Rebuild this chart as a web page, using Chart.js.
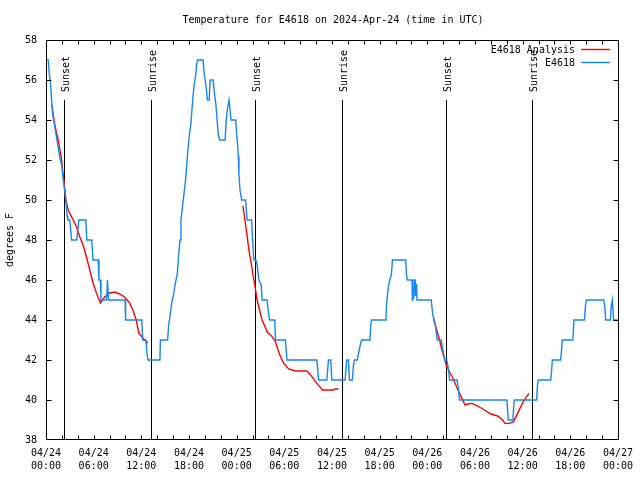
<!DOCTYPE html>
<html><head><meta charset="utf-8">
<script src="https://cdn.jsdelivr.net/npm/chart.js@4.4.1/dist/chart.umd.min.js"></script>
<style>html,body{margin:0;padding:0;background:#fff}canvas{display:block}</style>
</head><body>
<canvas id="c" width="640" height="480"></canvas>
<script>
const titleText = 'Temperature for E4618 on 2024-Apr-24 (time in UTC)';
const yAxisTitle = 'degrees F';
const seriesNames = ['E4618 Analysis', 'E4618'];
const seriesColors = ['#ff0000', '#1487f5'];

const xTickDates = ['04/24','04/24','04/24','04/24','04/25','04/25','04/25','04/25','04/26','04/26','04/26','04/26','04/27'];
const xTickTimes = ['00:00','06:00','12:00','18:00','00:00','06:00','12:00','18:00','00:00','06:00','12:00','18:00','00:00'];

// Observed station temperature (hours since 04/24 00:00 UTC, deg F)
const obsHours = [0.1,0.29,0.41,0.54,0.71,0.84,0.96,1.09,1.38,1.75,2.0,2.17,2.38,2.54,2.67,2.75,3.0,3.22,3.88,4.13,5.01,5.13,5.76,5.92,6.57,6.67,6.85,6.92,7.64,7.73,7.80,7.89,9.95,10.02,12.06,12.18,12.58,12.71,12.84,14.34,14.40,15.31,15.44,15.62,15.82,16.07,16.24,16.37,16.53,16.65,16.87,16.99,17.28,17.57,17.82,18.03,18.24,18.37,18.53,18.66,18.87,18.95,19.07,19.78,19.91,20.12,20.25,20.32,20.54,20.66,21.04,21.16,21.38,21.58,21.70,21.88,22.54,22.70,22.83,23.04,23.17,23.29,23.88,24.00,24.13,24.21,24.29,24.42,24.63,25.13,25.21,25.33,25.88,25.96,26.17,26.42,26.58,26.80,27.09,27.21,27.84,27.96,28.14,28.80,28.89,30.14,30.34,34.10,34.31,35.35,35.56,35.85,35.98,37.65,37.85,38.07,38.19,38.57,38.69,38.82,39.19,39.32,39.53,39.73,40.78,40.86,40.98,42.79,42.86,42.99,43.16,43.29,43.49,43.61,45.29,45.37,45.49,46.08,46.12,46.29,46.33,46.46,46.50,46.65,46.71,48.50,48.67,48.84,49.00,49.25,49.75,49.96,50.18,50.46,50.68,50.80,51.75,51.93,52.05,58.02,58.19,58.77,58.94,61.77,61.86,61.98,63.53,63.65,63.74,64.78,64.90,64.99,66.33,66.46,67.78,67.91,68.03,70.21,70.34,70.46,71.04,71.16,71.29,71.46,71.97];
const obsTemps = [57,57,56.3,56,55,54.3,54,53.7,53,52.1,51.7,51,50.4,49.8,49.2,49,49,48,48,49,49,48,48,47,47,46,46,45,45,46,46,45,45,44,44,43,43,42.3,42,42,43,43,43.75,44.2,44.85,45.3,45.75,46,46.3,47,48,49,50,51,52.3,53.2,53.8,54.5,55.3,55.8,56.3,56.75,57,57,56.3,55.8,55.3,55,55,56,56,55.5,54.8,53.8,53.25,53,53,54,54.5,55,54.5,54,54,53.3,52.7,52.2,51.3,50.5,50,50,49.5,49,49,48.3,47,47,46.75,46,45.75,45,45,44.5,44,44,43,43,42,42,41,41,42,42,41,41,42,42,41,41,41.7,42,42,42.3,42.7,43,43,43.7,44,44,44.7,45.3,45.8,46,46.3,47,47,46.3,46,46,45,45.1,46,46,45.2,45.8,45,45,44.3,44,43.75,43,43,42.5,42,42,41.5,41,41,40.5,40,40,39,39,40,40,40.7,41,41,41.5,42,42,42.5,43,43,44,44,44.7,45,45,44.7,44,44,44.7,45,44,44];

// Analysis (null separates the three analysis runs)
const anaHours = [0.75,1.00,1.25,1.54,1.75,1.97,2.09,2.25,2.38,2.50,2.79,3.42,3.84,4.26,4.67,5.10,5.51,5.92,6.35,6.85,7.39,8.01,8.64,9.27,9.89,10.52,10.93,11.36,11.68,12.18,12.81,
  18.0,
  24.79,25.04,25.33,25.54,25.76,25.96,26.17,26.38,26.58,26.88,27.21,27.84,28.46,28.89,29.21,29.51,29.93,30.55,31.39,32.85,33.47,34.10,34.81,36.19,36.40,36.82,
  42.0,
  48.80,49.00,49.25,49.55,49.84,50.09,50.38,50.80,51.22,51.75,52.25,52.76,53.09,53.63,54.34,55.19,56.01,56.85,57.48,57.77,58.32,58.85,59.36,59.98,60.48,60.82];
const anaTemps = [54.75,54,53.5,53,52.5,52,51.5,51,50.5,50,49.5,49,48.65,48.15,47.75,47.15,46.5,45.85,45.35,44.85,45.15,45.35,45.4,45.3,45.15,44.85,44.5,44,43.35,43.1,42.85,
  null,
  49.7,49,48.17,47.5,47,46.5,46,45.5,45,44.5,44,43.4,43.17,42.9,42.5,42.17,41.83,41.55,41.45,41.45,41.17,40.83,40.5,40.5,40.55,40.55,
  null,
  44.08,43.75,43.4,43,42.5,42.17,41.75,41.4,41.1,40.6,40.17,39.75,39.8,39.83,39.7,39.5,39.3,39.2,39.0,38.83,38.83,38.92,39.33,39.83,40.17,40.33];

const sunHours = [2.25, 13.24, 26.30, 37.23, 50.38, 61.15];
const sunLabels = ['Sunset','Sunrise','Sunset','Sunrise','Sunset','Sunrise'];

const FONT = "'DejaVu Sans Mono', 'Liberation Mono', monospace";
const FONT_SIZE = 10;

const toPts = (xs, ys) => xs.map((x, i) => ({x: x, y: ys[i]}));

const decor = {
  id: 'decor',
  beforeDatasetsDraw(chart) {
    const ctx = chart.ctx, xs = chart.scales.x, ca = chart.chartArea;
    ctx.save();
    ctx.strokeStyle = '#000';
    ctx.lineWidth = 1;
    ctx.fillStyle = '#000';
    ctx.font = FONT_SIZE + 'px ' + FONT;
    sunHours.forEach((h, i) => {
      const px = Math.round(xs.getPixelForValue(h)) + 0.5;
      ctx.beginPath();
      ctx.moveTo(px, ca.top + 60);
      ctx.lineTo(px, ca.bottom);
      ctx.stroke();
      ctx.save();
      ctx.translate(px + 1.5, ca.top + 52);
      ctx.rotate(-Math.PI / 2);
      ctx.textAlign = 'left';
      ctx.textBaseline = 'middle';
      ctx.fillText(sunLabels[i], 0, 0);
      ctx.restore();
    });
    ctx.restore();
  },
  afterDatasetsDraw(chart) {
    const ctx = chart.ctx, xs = chart.scales.x, ys = chart.scales.y, ca = chart.chartArea;
    ctx.save();
    ctx.strokeStyle = '#000';
    ctx.lineWidth = 1;
    const L = Math.round(ca.left) + 0.5, R = Math.round(ca.right) + 0.5;
    const T = Math.round(ca.top) + 0.5, B = Math.round(ca.bottom) - 0.5;
    ctx.beginPath();
    ctx.rect(L, T, R - L, B - T);
    ctx.stroke();
    // x ticks every 2 h, inward top and bottom
    ctx.beginPath();
    for (let h = 2; h < 72; h += 2) {
      const px = Math.round(xs.getPixelForValue(h)) + 0.5;
      ctx.moveTo(px, B); ctx.lineTo(px, B - 4);
      ctx.moveTo(px, T); ctx.lineTo(px, T + 4);
    }
    // y ticks every 2 deg, inward left and right
    for (let v = 40; v < 58; v += 2) {
      const py = Math.round(ys.getPixelForValue(v)) + 0.5;
      ctx.moveTo(L, py); ctx.lineTo(L + 5, py);
      ctx.moveTo(R, py); ctx.lineTo(R - 5, py);
    }
    ctx.stroke();
    // legend
    ctx.font = FONT_SIZE + 'px ' + FONT;
    ctx.fillStyle = '#000';
    ctx.textAlign = 'right';
    ctx.textBaseline = 'middle';
    seriesNames.forEach((n, i) => {
      const y = ca.top + 10 + i * 13;
      ctx.fillText(n, 575, y);
      ctx.strokeStyle = seriesColors[i];
      ctx.lineWidth = 1.4;
      ctx.beginPath();
      ctx.moveTo(581, Math.round(y) - 0.5);
      ctx.lineTo(610, Math.round(y) - 0.5);
      ctx.stroke();
    });
    // title
    ctx.textAlign = 'center';
    ctx.fillText(titleText, 333, 20);
    // y axis title
    ctx.save();
    ctx.translate(10, 240);
    ctx.rotate(-Math.PI / 2);
    ctx.fillText(yAxisTitle, 0, 0);
    ctx.restore();
    ctx.restore();
  }
};

new Chart(document.getElementById('c'), {
  type: 'line',
  data: {
    datasets: [
      {
        label: seriesNames[0],
        data: toPts(anaHours, anaTemps),
        borderColor: seriesColors[0],
        borderWidth: 1.4,
        pointRadius: 0,
        tension: 0,
        spanGaps: false,
        order: 1
      },
      {
        label: seriesNames[1],
        data: toPts(obsHours, obsTemps),
        borderColor: seriesColors[1],
        borderWidth: 1.4,
        pointRadius: 0,
        tension: 0,
        order: 0
      }
    ]
  },
  options: {
    responsive: false,
    animation: false,
    events: [],
    layout: {padding: {left: 0, right: 19, top: 40, bottom: 0}},
    plugins: {legend: {display: false}, tooltip: {enabled: false}, title: {display: false}},
    scales: {
      x: {
        type: 'linear',
        min: 0, max: 72,
        grid: {display: false, drawTicks: false},
        border: {display: false},
        afterFit(s) { s.height = 40; },
        ticks: {
          stepSize: 6,
          padding: 7,
          maxRotation: 0,
          autoSkip: false,
          color: '#000',
          font: {family: FONT, size: FONT_SIZE, lineHeight: 1.3},
          callback: (v, i) => [xTickDates[i], xTickTimes[i]]
        }
      },
      y: {
        min: 38, max: 58,
        grid: {display: false, drawTicks: false},
        border: {display: false},
        afterFit(s) { s.width = 46; },
        ticks: {
          stepSize: 2,
          padding: 9,
          color: '#000',
          font: {family: FONT, size: FONT_SIZE}
        }
      }
    }
  },
  plugins: [decor]
});
</script>
</body></html>
